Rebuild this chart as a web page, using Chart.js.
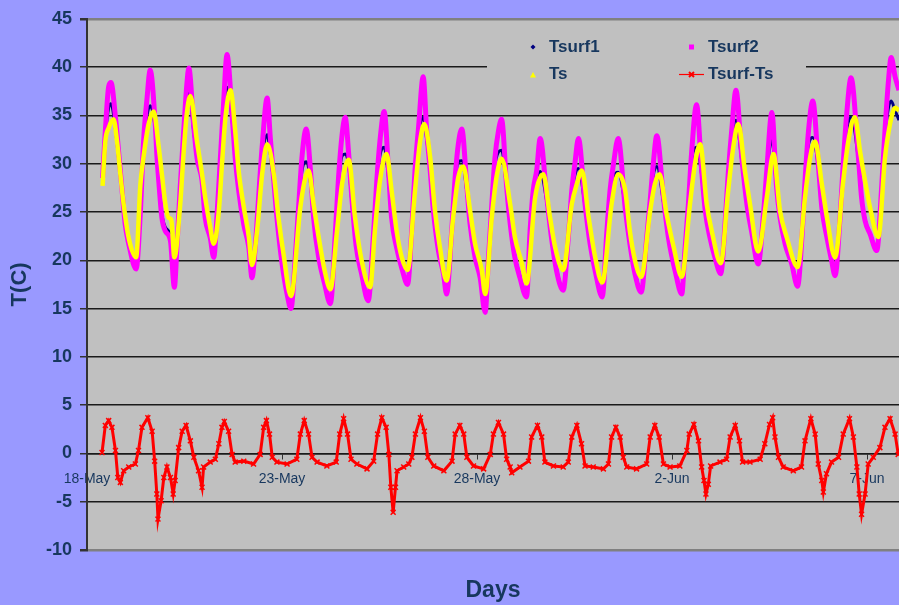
<!DOCTYPE html>
<html>
<head>
<meta charset="utf-8">
<script src="https://cdn.jsdelivr.net/npm/chart.js@4.4.0/dist/chart.umd.min.js"></script>
<style>
  html, body { margin: 0; padding: 0; background: #9999ff; }
  #wrap { width: 899px; height: 605px; }
</style>
</head>
<body>
<div id="wrap"><canvas id="c" width="899" height="605"></canvas></div>
<script>
// x = days since 18-May 00:00, y = temperature (C)
const tickDays   = [0, 5, 10, 15, 20];
const tickLabels = ['18-May', '23-May', '28-May', '2-Jun', '7-Jun'];
const yMin = -10, yMax = 45, yStep = 5;
const xMax = 20.82;

const tsurf2 = [
  [0.40,28.5],[0.47,33.4],[0.556,38.0],[0.615,38.4],[0.73,34.8],[0.81,31.3],[0.90,27.2],[0.98,23.7],[1.07,21.7],[1.26,19.1],
  [1.37,25.1],[1.45,32.3],[1.54,36.8],[1.62,39.7],[1.75,34.1],[1.79,31.0],[1.84,28.2],[1.92,24.4],[2.01,23.0],[2.14,22.0],[2.24,17.2],
  [2.31,21.7],[2.39,27.6],[2.48,33.4],[2.56,38.2],[2.61,39.9],[2.74,33.7],[2.82,30.6],[2.95,28.2],[3.03,24.4],[3.16,22.3],[3.25,20.3],
  [3.33,24.4],[3.42,30.6],[3.50,36.1],[3.59,41.3],[3.72,35.1],[3.80,30.6],[3.89,27.2],[4.02,23.7],[4.15,21.3],[4.23,18.2],
  [4.32,21.7],[4.40,26.5],[4.49,31.7],[4.62,36.8],[4.70,32.7],[4.79,28.2],[4.87,24.4],[5.00,19.7],[5.13,16.5],[5.23,15.0],
  [5.34,20.3],[5.43,25.8],[5.51,30.6],[5.62,33.6],[5.73,29.3],[5.81,24.4],[5.94,20.3],[6.09,17.6],[6.24,15.5],
  [6.37,23.0],[6.45,28.6],[6.54,33.0],[6.62,34.8],[6.71,31.0],[6.79,26.5],[6.90,21.5],[7.04,18.6],[7.21,15.8],
  [7.34,22.3],[7.43,28.2],[7.51,32.3],[7.62,35.4],[7.73,29.3],[7.81,24.4],[7.94,21.3],[8.07,19.2],[8.22,17.5],
  [8.33,23.4],[8.41,29.3],[8.50,33.7],[8.62,39.0],[8.71,33.4],[8.80,29.3],[8.88,25.2],[9.01,21.0],[9.14,18.6],[9.22,16.5],
  [9.35,23.0],[9.44,28.6],[9.52,32.0],[9.61,33.6],[9.74,27.6],[9.82,23.8],[9.95,20.3],[10.08,18.2],[10.21,14.6],
  [10.29,20.0],[10.38,25.8],[10.46,30.6],[10.55,33.4],[10.63,34.6],[10.76,27.6],[10.85,23.8],[10.97,20.3],[11.10,18.2],[11.27,16.2],
  [11.36,23.0],[11.44,27.2],[11.53,29.3],[11.62,32.6],[11.79,26.5],[11.91,22.3],[12.04,18.9],[12.21,16.9],
  [12.34,22.3],[12.43,27.2],[12.51,30.0],[12.60,32.6],[12.77,25.8],[12.90,21.7],[13.03,18.9],[13.21,16.2],
  [13.33,23.0],[13.41,27.2],[13.50,30.0],[13.62,32.6],[13.80,25.4],[13.92,21.7],[14.05,18.6],[14.21,16.7],
  [14.35,22.3],[14.44,26.2],[14.52,30.0],[14.61,32.9],[14.78,26.5],[14.91,22.3],[15.08,18.9],[15.25,16.5],
  [15.33,21.0],[15.42,25.8],[15.50,31.0],[15.63,36.1],[15.76,29.3],[15.85,25.2],[15.97,22.4],[16.10,20.3],[16.25,18.6],
  [16.36,23.8],[16.44,28.9],[16.53,33.4],[16.64,37.6],[16.79,30.6],[16.92,25.8],[17.04,23.0],[17.21,19.6],
  [17.34,24.5],[17.43,29.3],[17.56,35.3],[17.68,27.6],[17.77,24.4],[17.90,21.7],[18.07,19.6],[18.22,17.3],
  [18.33,22.3],[18.41,28.2],[18.50,33.4],[18.61,36.5],[18.75,30.0],[18.84,25.5],[18.97,22.4],[19.09,20.0],[19.18,18.4],
  [19.31,24.5],[19.39,30.0],[19.48,35.2],[19.59,38.9],[19.78,30.6],[19.86,26.5],[19.95,24.1],[20.08,22.7],[20.25,21.0],
  [20.38,27.9],[20.46,33.4],[20.55,38.6],[20.62,41.0],[20.72,39.0],[20.82,37.6]
];

const tsurf1 = [
  [0.40,28.0],[0.47,32.7],[0.556,35.8],[0.615,36.2],[0.73,33.5],[0.81,30.5],[0.90,26.9],[0.98,23.7],[1.07,21.8],[1.26,19.3],
  [1.37,25.5],[1.45,31.5],[1.54,35.0],[1.62,36.0],[1.75,33.5],[1.79,31.0],[1.84,28.3],[1.92,24.8],[2.01,23.4],[2.14,22.5],[2.24,17.8],
  [2.31,22.0],[2.39,27.3],[2.48,32.5],[2.56,36.5],[2.61,37.3],[2.74,33.2],[2.82,30.5],[2.95,28.3],[3.03,24.8],[3.16,22.6],[3.25,20.5],
  [3.33,24.6],[3.42,30.2],[3.50,34.8],[3.59,37.9],[3.72,34.5],[3.80,30.8],[3.89,27.6],[4.02,24.0],[4.15,21.6],[4.23,18.4],
  [4.32,21.9],[4.40,26.5],[4.49,30.8],[4.62,33.0],[4.70,31.0],[4.79,27.9],[4.87,24.5],[5.00,20.0],[5.13,16.8],[5.23,15.3],
  [5.34,20.6],[5.43,25.6],[5.51,29.2],[5.62,30.2],[5.73,28.0],[5.81,24.4],[5.94,20.6],[6.09,17.8],[6.24,15.7],
  [6.37,23.0],[6.45,28.0],[6.54,30.8],[6.62,31.0],[6.71,29.8],[6.79,26.0],[6.90,21.6],[7.04,18.7],[7.21,16.0],
  [7.34,22.5],[7.43,27.8],[7.51,30.8],[7.62,31.7],[7.73,28.5],[7.81,24.5],[7.94,21.5],[8.07,19.3],[8.22,17.7],
  [8.33,23.5],[8.41,29.0],[8.50,32.8],[8.62,34.8],[8.71,32.5],[8.80,29.3],[8.88,25.3],[9.01,21.2],[9.14,18.7],[9.22,16.7],
  [9.35,23.2],[9.44,28.2],[9.52,30.2],[9.61,30.3],[9.74,27.0],[9.82,23.8],[9.95,20.5],[10.08,18.4],[10.21,15.0],
  [10.29,20.3],[10.38,25.6],[10.46,29.8],[10.55,31.2],[10.63,31.4],[10.76,27.4],[10.85,23.9],[10.97,20.5],[11.10,18.4],[11.27,16.4],
  [11.36,23.0],[11.44,26.8],[11.53,28.5],[11.62,29.2],[11.79,26.0],[11.91,22.4],[12.04,19.1],[12.21,17.1],
  [12.34,22.4],[12.43,26.8],[12.51,28.8],[12.60,29.5],[12.77,25.6],[12.90,21.8],[13.03,19.0],[13.21,16.4],
  [13.33,23.0],[13.41,26.8],[13.50,28.6],[13.62,29.1],[13.80,25.6],[13.92,21.8],[14.05,18.8],[14.21,16.9],
  [14.35,22.4],[14.44,26.0],[14.52,28.8],[14.61,29.7],[14.78,26.0],[14.91,22.4],[15.08,19.0],[15.25,16.7],
  [15.33,21.2],[15.42,25.7],[15.50,30.2],[15.63,31.7],[15.76,28.8],[15.85,25.2],[15.97,22.5],[16.10,20.4],[16.25,18.8],
  [16.36,23.8],[16.44,28.6],[16.53,32.4],[16.64,34.5],[16.79,30.2],[16.92,25.8],[17.04,23.1],[17.21,19.8],
  [17.34,24.6],[17.43,29.0],[17.56,32.4],[17.68,27.5],[17.77,24.5],[17.90,21.8],[18.07,19.7],[18.22,17.5],
  [18.33,22.5],[18.41,28.0],[18.50,32.0],[18.61,32.7],[18.75,29.6],[18.84,25.6],[18.97,22.5],[19.09,20.1],[19.18,18.6],
  [19.31,24.6],[19.39,29.6],[19.48,33.5],[19.59,34.8],[19.78,30.3],[19.86,26.6],[19.95,24.2],[20.08,22.8],[20.25,21.2],
  [20.38,28.0],[20.46,32.8],[20.55,35.8],[20.62,36.5],[20.72,35.5],[20.82,34.5]
];

const ts = [
  [0.40,27.7],[0.47,32.3],[0.556,33.7],[0.68,34.6],[0.77,32.3],[0.855,28.9],[0.94,25.8],[1.07,22.3],[1.26,20.3],
  [1.37,27.9],[1.45,30.7],[1.58,34.1],[1.71,35.4],[1.84,31.7],[1.92,28.9],[2.01,25.8],[2.09,24.4],[2.16,24.2],[2.24,20.3],
  [2.39,25.8],[2.48,31.3],[2.56,35.2],[2.65,37.0],[2.82,32.3],[2.95,28.9],[3.03,26.5],[3.16,23.4],[3.25,21.7],
  [3.38,25.1],[3.46,29.9],[3.55,34.8],[3.68,37.6],[3.80,33.4],[3.89,29.2],[4.02,25.5],[4.15,22.4],[4.23,19.5],
  [4.36,23.0],[4.49,28.9],[4.62,32.0],[4.79,28.9],[4.91,24.4],[5.04,20.6],[5.23,16.3],
  [5.47,25.5],[5.60,28.6],[5.68,29.3],[5.81,25.8],[5.94,22.4],[6.09,19.0],[6.24,17.0],
  [6.41,23.0],[6.54,27.9],[6.71,30.4],[6.87,24.5],[7.04,20.0],[7.26,17.2],
  [7.38,23.0],[7.51,28.2],[7.68,31.0],[7.81,27.2],[7.94,23.0],[8.07,20.3],[8.22,19.0],
  [8.41,27.2],[8.54,32.3],[8.65,34.1],[8.80,30.6],[8.92,25.2],[9.05,21.3],[9.22,17.9],
  [9.39,24.5],[9.52,28.6],[9.65,29.7],[9.82,25.2],[9.95,21.7],[10.12,19.0],[10.21,16.5],
  [10.38,24.5],[10.50,28.6],[10.63,30.5],[10.85,25.8],[10.97,22.4],[11.15,19.7],[11.27,17.6],
  [11.49,26.5],[11.70,28.9],[11.87,24.5],[12.00,21.4],[12.21,19.0],
  [12.43,25.8],[12.56,27.9],[12.69,29.3],[12.86,24.5],[13.03,20.3],[13.21,17.7],
  [13.45,25.8],[13.62,28.9],[13.80,27.2],[13.92,23.0],[14.05,20.0],[14.21,18.3],
  [14.44,25.1],[14.56,27.9],[14.68,28.9],[14.86,24.8],[15.04,21.4],[15.25,18.3],
  [15.46,25.8],[15.59,30.0],[15.72,32.0],[15.89,25.8],[16.02,23.0],[16.25,19.7],
  [16.44,27.2],[16.57,31.7],[16.70,34.1],[16.87,29.2],[17.00,25.8],[17.21,20.9],
  [17.43,26.5],[17.60,31.0],[17.77,25.1],[17.94,22.4],[18.22,19.3],
  [18.41,26.5],[18.54,30.6],[18.67,32.3],[18.84,27.9],[18.97,24.5],[19.18,20.3],
  [19.39,28.2],[19.52,32.3],[19.69,34.8],[19.82,31.3],[19.95,28.2],[20.08,25.4],[20.29,22.4],
  [20.46,30.6],[20.59,34.1],[20.72,35.8],[20.82,35.5]
];

const diff = [
  [0.385,0.1],[0.47,2.9],[0.556,3.4],[0.64,2.7],[0.73,0.3],[0.79,-2.5],[0.855,-3.0],[0.94,-1.8],[1.07,-1.4],[1.24,-1.1],
  [1.32,0.3],[1.41,2.7],[1.56,3.7],[1.67,2.3],[1.735,-0.8],[1.79,-4.2],[1.82,-6.8],[1.90,-4.9],[1.97,-2.5],[2.05,-1.4],
  [2.14,-2.5],[2.21,-4.2],[2.26,-2.8],[2.35,0.6],[2.44,2.3],[2.54,2.9],[2.65,1.3],[2.74,-0.4],[2.86,-1.8],[2.95,-3.5],
  [2.99,-1.4],[3.16,-0.9],[3.29,-0.6],[3.38,1.0],[3.46,2.7],[3.52,3.3],[3.63,2.3],[3.72,-0.1],[3.80,-0.9],[4.02,-0.8],
  [4.27,-1.1],[4.44,-0.1],[4.53,2.7],[4.60,3.4],[4.68,2.0],[4.75,-0.4],[4.87,-0.9],[5.13,-1.1],[5.38,-0.6],[5.47,2.0],
  [5.57,3.4],[5.68,2.0],[5.77,-0.4],[5.90,-0.9],[6.15,-1.3],[6.39,-0.9],[6.48,2.0],[6.58,3.6],[6.68,2.0],[6.77,-0.6],
  [6.92,-1.1],[7.18,-1.6],[7.35,-0.8],[7.45,2.0],[7.56,3.7],[7.67,2.7],[7.74,-0.1],[7.79,-3.5],[7.85,-6.1],[7.91,-3.5],
  [7.95,-1.8],[8.12,-1.4],[8.25,-1.1],[8.33,-0.4],[8.42,2.0],[8.55,3.7],[8.65,2.3],[8.74,-0.4],[8.89,-1.3],[9.15,-1.8],
  [9.36,-0.8],[9.44,2.0],[9.56,2.9],[9.66,2.0],[9.74,-0.4],[9.91,-1.3],[10.17,-1.6],[10.34,-0.1],[10.42,2.0],[10.55,3.2],
  [10.68,2.0],[10.76,-0.6],[10.85,-1.4],[10.89,-2.0],[11.10,-1.4],[11.32,-0.8],[11.40,1.7],[11.55,2.9],[11.66,1.7],[11.74,-0.9],
  [11.96,-1.3],[12.21,-1.4],[12.34,-0.9],[12.43,1.7],[12.56,2.9],[12.68,1.0],[12.77,-1.3],[12.98,-1.4],[13.24,-1.6],[13.37,-1.1],
  [13.45,1.7],[13.56,2.7],[13.67,1.7],[13.75,-0.4],[13.84,-1.4],[14.09,-1.6],[14.35,-1.1],[14.44,1.7],[14.56,2.9],[14.67,1.7],
  [14.78,-1.1],[14.95,-1.4],[15.20,-1.3],[15.38,0.3],[15.44,2.0],[15.56,3.0],[15.68,1.3],[15.76,-1.4],[15.82,-2.8],[15.87,-4.2],
  [15.93,-3.2],[15.99,-1.3],[16.23,-0.9],[16.40,-0.6],[16.49,1.7],[16.62,2.9],[16.73,1.3],[16.81,-0.9],[17.00,-0.9],[17.26,-0.6],
  [17.38,1.0],[17.50,3.0],[17.58,3.7],[17.64,1.7],[17.73,-0.4],[17.85,-1.4],[18.11,-1.8],[18.32,-1.4],[18.41,1.3],[18.56,3.6],
  [18.67,2.0],[18.75,-1.1],[18.84,-2.8],[18.88,-4.0],[18.96,-2.1],[19.09,-0.9],[19.27,-0.4],[19.39,2.0],[19.55,3.6],[19.65,1.7],
  [19.74,-1.4],[19.80,-4.2],[19.86,-6.3],[19.95,-4.2],[20.03,-1.1],[20.16,-0.4],[20.33,0.6],[20.46,2.7],[20.59,3.6],[20.72,2.0],
  [20.80,-0.1]
];

const NAVY_TEXT = '#17375e';
const FONT = "'Liberation Sans', Arial, sans-serif";
const pts = arr => arr.map(([x, y]) => ({ x, y }));

// grey plot background
const plotBg = {
  id: 'plotBg',
  beforeDraw(chart) {
    const { ctx, chartArea: a } = chart;
    ctx.save();
    ctx.fillStyle = '#c0c0c0';
    ctx.fillRect(a.left, a.top, a.right - a.left, a.bottom - a.top);
    ctx.restore();
  }
};

// Excel-style legend box inside the plot, two columns
const legendBox = {
  id: 'legendBox',
  beforeDatasetsDraw(chart) {
    const ctx = chart.ctx;
    ctx.save();
    ctx.fillStyle = '#c0c0c0';
    ctx.fillRect(487, 29, 319, 61);

    ctx.font = 'bold 17px ' + FONT;
    ctx.fillStyle = NAVY_TEXT;
    ctx.textBaseline = 'middle';
    ctx.textAlign = 'left';
    ctx.fillText('Tsurf1', 549, 47);
    ctx.fillText('Ts', 549, 74.5);
    ctx.fillText('Tsurf2', 708, 47);
    ctx.fillText('Tsurf-Ts', 708, 74.5);

    // Tsurf1: navy diamond
    ctx.fillStyle = '#000080';
    ctx.beginPath();
    ctx.moveTo(533, 44.5); ctx.lineTo(535.5, 47); ctx.lineTo(533, 49.5); ctx.lineTo(530.5, 47);
    ctx.closePath(); ctx.fill();
    // Ts: yellow triangle
    ctx.fillStyle = '#ffff00';
    ctx.beginPath();
    ctx.moveTo(533, 72); ctx.lineTo(536, 77.5); ctx.lineTo(530, 77.5);
    ctx.closePath(); ctx.fill();
    // Tsurf2: magenta square
    ctx.fillStyle = '#ff00ff';
    ctx.fillRect(689, 44.5, 5, 5);
    // Tsurf-Ts: red line with x
    ctx.strokeStyle = '#ff0000';
    ctx.lineWidth = 1.2;
    ctx.beginPath(); ctx.moveTo(679, 74.5); ctx.lineTo(704, 74.5); ctx.stroke();
    ctx.lineWidth = 2;
    ctx.beginPath();
    ctx.moveTo(689, 72); ctx.lineTo(694, 77); ctx.moveTo(694, 72); ctx.lineTo(689, 77);
    ctx.stroke();
    ctx.restore();
  }
};

const lineBase = { showLine: true, pointRadius: 0, cubicInterpolationMode: 'monotone', fill: false };

new Chart(document.getElementById('c'), {
  type: 'scatter',
  data: {
    datasets: [
      { ...lineBase, label: 'Tsurf1', data: pts(tsurf1), borderColor: '#000080', borderWidth: 3, order: 4 },
      { ...lineBase, label: 'Tsurf2', data: pts(tsurf2), borderColor: '#ff00ff', borderWidth: 5, order: 3 },
      { ...lineBase, label: 'Ts', data: pts(ts), borderColor: '#ffff00', borderWidth: 4.5, order: 1 },
      { label: 'Tsurf-Ts', data: pts(diff), showLine: true, borderColor: '#ff0000', borderWidth: 3,
        pointStyle: 'crossRot', pointRadius: 3.5, pointBorderColor: '#ff0000', pointBorderWidth: 1.5,
        pointBackgroundColor: '#ff0000', order: 0 }
    ]
  },
  options: {
    responsive: false,
    animation: false,
    events: [],
    layout: { autoPadding: false, padding: { top: 18, right: 0, left: 0, bottom: 0 } },
    plugins: {
      legend: { display: false },
      tooltip: { enabled: false },
      title: {
        display: true,
        position: 'bottom',
        fullSize: false,
        text: 'Days',
        color: NAVY_TEXT,
        font: { family: FONT, size: 23, weight: 'bold' },
        padding: { top: 26.5, bottom: 0.9 }
      }
    },
    scales: {
      x: {
        type: 'linear',
        position: { y: 0 },
        min: 0,
        max: xMax,
        afterBuildTicks: axis => { axis.ticks = tickDays.map(v => ({ value: v })); },
        afterFit: s => { s.paddingLeft = 0; s.paddingRight = 0; },
        ticks: {
          autoSkip: false,
          maxRotation: 0,
          padding: 12,
          color: NAVY_TEXT,
          font: { family: FONT, size: 14 },
          callback: (v, i) => tickLabels[i]
        },
        grid: { drawOnChartArea: false, drawTicks: true, tickLength: 5, color: '#333' },
        border: { display: true, color: '#1a1a1a', width: 1.5 }
      },
      y: {
        min: yMin,
        max: yMax,
        afterFit: s => { s.width = 87; },
        ticks: {
          stepSize: yStep,
          padding: 8,
          color: NAVY_TEXT,
          font: { family: FONT, size: 18, weight: 'bold' }
        },
        grid: {
          tickLength: 7,
          tickColor: '#333',
          color: c => (c.tick.value === yMax || c.tick.value === yMin) ? '#808080' : '#1a1a1a',
          lineWidth: c => (c.tick.value === yMax || c.tick.value === yMin) ? 2.5 : 1.5
        },
        border: { color: '#333', width: 2 },
        title: {
          display: true,
          text: 'T(C)',
          color: NAVY_TEXT,
          font: { family: FONT, size: 22, weight: 'bold' },
          padding: { top: 7, bottom: 0 }
        }
      }
    }
  },
  plugins: [plotBg, legendBox]
});
</script>
</body>
</html>
